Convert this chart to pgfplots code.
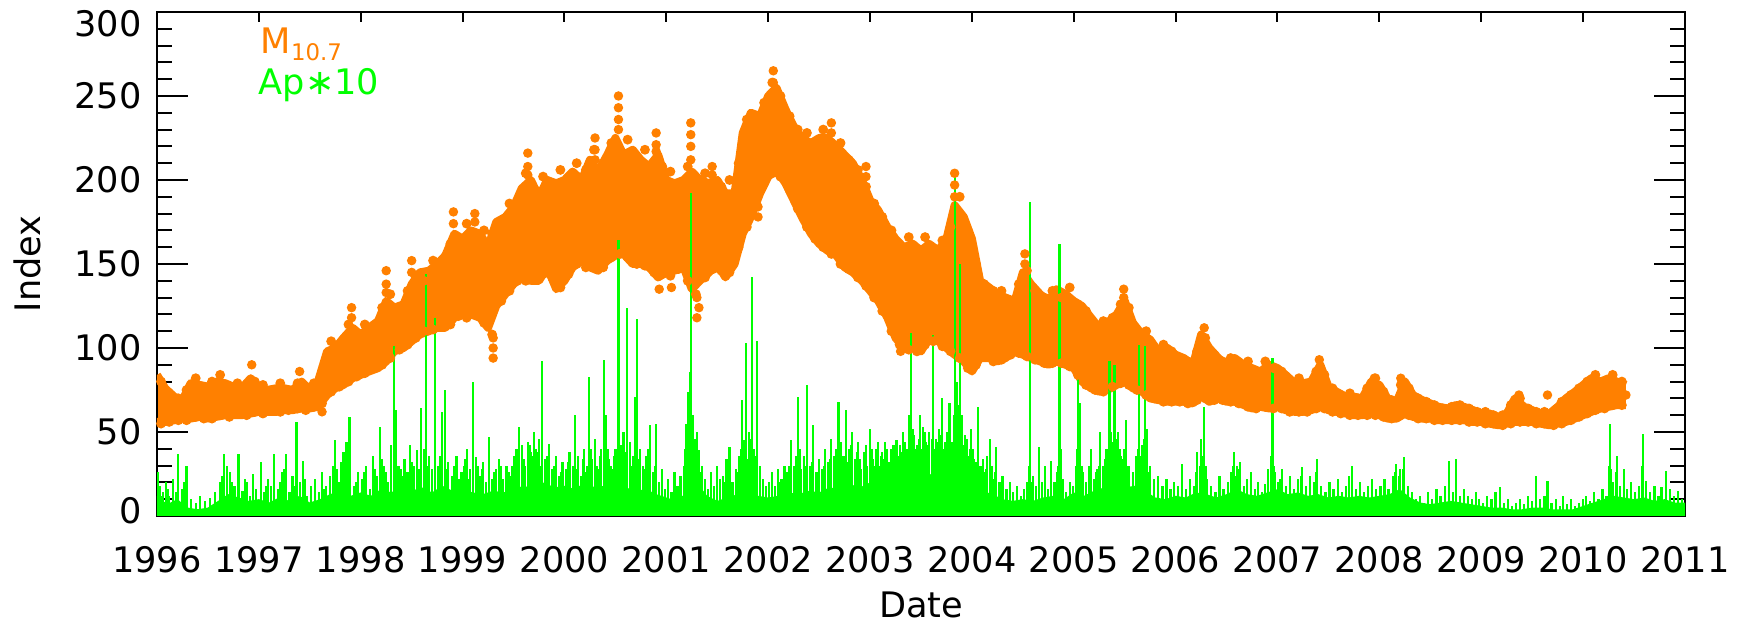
\documentclass[border=0pt]{standalone}
\usepackage{fontspec}
\setmainfont{DejaVu Sans}
\usepackage{pgfplots}
\usepackage{pgfplotstable}
\usepgfplotslibrary{fillbetween}
\pgfplotsset{compat=1.18}
\definecolor{morange}{RGB}{255,128,0}
\definecolor{apgreen}{RGB}{0,255,0}

% M10.7: monthly upper / lower edge of the daily point cloud
\pgfplotstableread{
t u l
1996.00 84 56
1996.08 76 56
1996.17 71 57
1996.25 69 58
1996.33 79 58
1996.42 78 59
1996.50 77 58
1996.58 80 59
1996.67 79 60
1996.75 77 60
1996.83 76 60
1996.92 82 61
1997.00 76 62
1997.08 75 62
1997.17 76 62
1997.25 76 63
1997.33 75 63
1997.42 80 64
1997.50 75 64
1997.58 80 65
1997.67 98 72
1997.75 100 76
1997.83 106 78
1997.92 112 82
1998.00 108 84
1998.08 112 86
1998.17 116 88
1998.25 128 92
1998.33 124 98
1998.42 126 100
1998.50 138 104
1998.58 145 108
1998.67 146 110
1998.75 150 112
1998.83 155 112
1998.92 168 118
1999.00 165 120
1999.08 170 120
1999.17 168 118
1999.25 160 112
1999.33 175 125
1999.42 178 132
1999.50 184 138
1999.58 195 142
1999.67 200 140
1999.75 190 140
1999.83 200 148
1999.92 198 135
2000.00 200 140
2000.08 205 148
2000.17 200 152
2000.25 212 148
2000.33 205 146
2000.42 215 152
2000.50 225 155
2000.58 215 156
2000.67 218 150
2000.75 212 150
2000.83 208 148
2000.92 215 142
2001.00 200 145
2001.08 198 146
2001.17 200 148
2001.25 205 135
2001.33 200 140
2001.42 198 145
2001.50 200 150
2001.58 192 142
2001.67 192 150
2001.75 228 168
2001.83 240 178
2001.92 238 192
2002.00 250 202
2002.08 255 206
2002.17 242 198
2002.25 232 188
2002.33 225 178
2002.42 222 168
2002.50 225 162
2002.58 225 158
2002.67 220 155
2002.75 215 148
2002.83 210 145
2002.92 200 140
2003.00 188 134
2003.08 182 128
2003.17 172 118
2003.25 165 106
2003.33 160 100
2003.42 162 100
2003.50 158 98
2003.58 162 106
2003.67 158 104
2003.75 165 100
2003.83 185 96
2003.92 178 92
2004.00 165 86
2004.08 140 94
2004.17 136 94
2004.25 132 92
2004.33 130 94
2004.42 128 98
2004.50 145 96
2004.58 138 94
2004.67 132 92
2004.75 128 90
2004.83 135 92
2004.92 132 90
2005.00 128 88
2005.08 125 80
2005.17 118 76
2005.25 112 74
2005.33 115 75
2005.42 120 78
2005.50 128 80
2005.58 115 76
2005.67 108 74
2005.75 105 70
2005.83 98 69
2005.92 100 68
2006.00 96 68
2006.08 94 68
2006.17 90 67
2006.25 108 72
2006.33 100 68
2006.42 94 70
2006.50 90 68
2006.58 94 68
2006.67 90 66
2006.75 88 64
2006.83 86 65
2006.92 90 64
2007.00 88 65
2007.08 84 63
2007.17 79 62
2007.25 79 62
2007.33 80 63
2007.42 90 65
2007.50 77 63
2007.58 74 62
2007.67 71 61
2007.75 71 60
2007.83 70 60
2007.92 80 61
2008.00 78 60
2008.08 70 58
2008.17 68 58
2008.25 80 61
2008.33 72 59
2008.42 69 58
2008.50 67 58
2008.58 65 57
2008.67 64 57
2008.75 66 57
2008.83 65 57
2008.92 63 56
2009.00 61 56
2009.08 61 55
2009.17 59 54
2009.25 61 55
2009.33 70 56
2009.42 65 56
2009.50 63 56
2009.58 61 55
2009.67 61 54
2009.75 65 55
2009.83 70 56
2009.92 74 58
2010.00 78 60
2010.08 82 62
2010.17 80 64
2010.25 82 65
2010.33 80 66
2010.42 78 66
}\mten

% M10.7: top and bottom points of the cloud in mid-month
\pgfplotstableread{
t u l
1996.04 80 55
1996.12 73 56
1996.21 70 57
1996.29 75 57
1996.38 82 59
1996.46 76 58
1996.54 80 58
1996.62 84 60
1996.71 76 59
1996.79 79 61
1996.88 75 60
1996.96 80 62
1997.04 78 61
1997.12 74 63
1997.21 79 62
1997.29 74 63
1997.38 79 64
1997.46 77 63
1997.54 79 65
1997.62 86 67
1997.71 104 74
1997.79 102 77
1997.88 114 80
1997.96 106 83
1998.04 114 85
1998.12 110 88
1998.21 124 90
1998.29 132 94
1998.38 120 99
1998.46 134 102
1998.54 142 106
1998.62 140 110
1998.71 152 111
1998.79 148 113
1998.88 162 114
1998.96 160 119
1999.04 174 118
1999.12 165 121
1999.21 170 115
1999.29 168 108
1999.38 172 128
1999.46 186 134
1999.54 180 140
1999.62 204 140
1999.71 194 142
1999.79 202 144
1999.88 192 142
1999.96 206 136
2000.04 196 144
2000.12 210 150
2000.21 206 148
2000.29 218 150
2000.38 210 148
2000.46 222 154
2000.54 218 156
2000.62 224 154
2000.71 212 150
2000.79 218 149
2000.88 210 145
2000.96 208 144
2001.04 205 143
2001.12 194 147
2001.21 208 140
2001.29 198 132
2001.38 204 142
2001.46 192 147
2001.54 196 146
2001.62 200 145
2001.71 210 160
2001.79 236 172
2001.88 232 186
2001.96 246 198
2002.04 258 204
2002.12 250 202
2002.21 238 194
2002.29 230 183
2002.38 228 172
2002.46 220 165
2002.54 230 160
2002.62 222 156
2002.71 222 150
2002.79 212 147
2002.88 206 142
2002.96 196 137
2003.04 186 130
2003.12 178 122
2003.21 170 110
2003.29 160 102
2003.38 166 99
2003.46 156 98
2003.54 166 102
2003.62 156 104
2003.71 164 101
2003.79 172 98
2003.88 190 94
2003.96 170 88
2004.04 150 90
2004.12 138 95
2004.21 134 92
2004.29 134 93
2004.38 126 96
2004.46 138 97
2004.54 146 95
2004.62 134 93
2004.71 130 91
2004.79 134 91
2004.88 130 91
2004.96 136 89
2005.04 126 84
2005.12 122 78
2005.21 114 75
2005.29 116 74
2005.38 118 77
2005.46 126 79
2005.54 124 78
2005.62 110 75
2005.71 110 72
2005.79 100 70
2005.88 102 68
2005.96 98 68
2006.04 92 68
2006.12 92 67
2006.21 98 69
2006.29 106 70
2006.38 96 69
2006.46 92 69
2006.54 94 68
2006.62 90 67
2006.71 92 65
2006.79 86 64
2006.88 92 65
2006.96 88 64
2007.04 86 64
2007.12 80 62
2007.21 82 62
2007.29 78 62
2007.38 86 64
2007.46 84 64
2007.54 76 62
2007.62 72 61
2007.71 73 60
2007.79 70 60
2007.88 76 60
2007.96 82 60
2008.04 74 59
2008.12 69 58
2008.21 78 60
2008.29 76 60
2008.38 70 58
2008.46 68 58
2008.54 66 57
2008.62 64 57
2008.71 65 57
2008.79 66 57
2008.88 64 56
2008.96 62 56
2009.04 62 55
2009.12 60 55
2009.21 60 54
2009.29 66 55
2009.38 70 56
2009.46 64 56
2009.54 62 55
2009.62 62 55
2009.71 62 54
2009.79 68 55
2009.88 72 57
2009.96 76 59
2010.04 80 61
2010.12 84 63
2010.21 80 64
2010.29 84 66
2010.38 80 66
}\mtenmid

% Ap*10: dense low-level band
\pgfplotstableread{
t b
1996.0 12
1996.1 7
1996.2 10
1996.3 5
1996.4 4
1996.5 5
1996.6 9
1996.7 13
1996.8 11
1996.9 9
1997.0 10
1997.1 8
1997.2 11
1997.3 9
1997.4 12
1997.5 8
1997.6 10
1997.7 13
1997.8 15
1997.9 12
1998.0 14
1998.1 12
1998.2 16
1998.3 14
1998.4 18
1998.5 15
1998.6 17
1998.7 14
1998.8 18
1998.9 15
1999.0 16
1999.1 14
1999.2 13
1999.3 15
1999.4 14
1999.5 16
1999.6 18
1999.7 16
1999.8 20
1999.9 17
2000.0 18
2000.1 16
2000.2 20
2000.3 17
2000.4 18
2000.5 15
2000.6 17
2000.7 15
2000.8 16
2000.9 13
2001.0 11
2001.1 9
2001.2 14
2001.25 28
2001.3 20
2001.4 12
2001.5 9
2001.6 11
2001.7 13
2001.8 15
2001.9 12
2002.0 11
2002.1 12
2002.2 14
2002.3 13
2002.4 15
2002.5 14
2002.6 17
2002.7 16
2002.8 19
2002.9 17
2003.0 20
2003.1 18
2003.2 22
2003.3 20
2003.4 24
2003.5 22
2003.6 25
2003.7 23
2003.8 27
2003.9 24
2004.0 20
2004.1 15
2004.2 13
2004.3 10
2004.4 9
2004.5 10
2004.6 9
2004.7 11
2004.8 12
2004.9 10
2005.0 14
2005.1 12
2005.2 15
2005.3 17
2005.4 20
2005.5 17
2005.6 18
2005.7 15
2005.8 11
2005.9 10
2006.0 12
2006.1 11
2006.2 14
2006.3 13
2006.4 11
2006.5 13
2006.6 16
2006.7 13
2006.8 12
2006.9 14
2007.0 16
2007.1 13
2007.2 14
2007.3 12
2007.4 13
2007.5 11
2007.6 12
2007.7 11
2007.8 12
2007.9 11
2008.0 12
2008.1 13
2008.2 16
2008.3 11
2008.4 8
2008.5 7
2008.6 8
2008.7 9
2008.8 8
2008.9 7
2009.0 6
2009.1 5
2009.2 5
2009.3 4
2009.4 4
2009.5 5
2009.6 5
2009.7 4
2009.8 4
2009.9 4
2010.0 6
2010.1 8
2010.2 10
2010.3 12
2010.4 11
2010.5 10
2010.6 11
2010.7 9
2010.8 10
2010.9 8
2011.0 8
}\apbase

\begin{document}
\begin{tikzpicture}

% axis for the short x ticks and the x labels
\begin{axis}[
  at={(0,0)}, anchor=south west, scale only axis,
  width=152.8mm, height=50.4mm,
  xmin=1996, xmax=2011, ymin=0, ymax=300,
  axis line style={line width=0.2mm},
  tick style={black, line width=0.2mm},
  tick align=inside,
  xtick={1996,1997,...,2011},
  xticklabels={1996,1997,1998,1999,2000,2001,2002,2003,2004,2005,2006,2007,2008,2009,2010,2011},
  minor x tick num=11,
  major tick length=1mm, minor tick length=0.5mm,
  ytick=\empty,
  xticklabel style={yshift=-1.8mm},
  xlabel={Date},
  xlabel style={at={(axis description cs:0.5,0)}, anchor=center, yshift=-8.9mm, inner sep=0pt},
]
\addplot[draw=none] coordinates {(1996,0) (2011,300)};
\end{axis}

% axis for the y ticks and the data
\begin{axis}[
  at={(0,0)}, anchor=south west, scale only axis,
  width=152.8mm, height=50.4mm,
  xmin=1996, xmax=2011, ymin=0, ymax=300,
  axis line style={line width=0.2mm},
  tick style={black, line width=0.2mm},
  tick align=inside,
  xtick=\empty,
  ytick={0,50,...,300},
  yticklabels={{\raisebox{0.5mm}[\height][\depth]{0}},50,100,150,200,250,{\raisebox{-1.2mm}[\height][\depth]{300}}},
  minor y tick num=4,
  major tick length=3.1mm, minor tick length=1.5mm,
  yticklabel style={xshift=-0.3mm},
  ylabel={Index},
  ylabel style={at={(axis description cs:-0.0845,0.5)}, anchor=center, inner sep=0pt},
]
% M10.7 cloud
\addplot[name path=up, morange, line width=0.8mm, line join=round] table[x=t,y=u] {\mten};
\addplot[name path=lo, morange, line width=0.8mm, line join=round] table[x=t,y=l] {\mten};
\addplot[morange] fill between[of=up and lo];
\addplot[only marks, mark=*, mark size=0.42mm, morange] table[x=t,y=u] {\mtenmid};
\addplot[only marks, mark=*, mark size=0.42mm, morange] table[x=t,y=l] {\mtenmid};
\addplot[only marks, mark=*, mark size=0.4mm, morange] coordinates {
(1996.93,90) (1997.40,86) (1997.62,62) (1997.91,124) (1997.91,118) (1998.25,146) (1998.25,138)
(1998.25,133) (1998.50,152) (1998.50,145) (1998.91,181) (1998.91,174) (1999.12,180) (1999.12,175)
(1999.30,94) (1999.30,100) (1999.30,106) (1999.64,216) (1999.64,208) (1999.64,203) (2000.30,225)
(2000.30,218) (2000.30,212) (2000.53,250) (2000.53,243) (2000.53,236) (2000.53,230) (2000.90,228)
(2000.90,221) (2000.90,217) (2000.93,135) (2001.05,136) (2001.24,234) (2001.24,227) (2001.24,220)
(2001.24,212) (2001.30,118) (2001.32,124) (2001.30,130) (2001.45,208) (2001.45,203) (2001.90,178)
(2001.90,184) (2002.05,265) (2002.05,258) (2002.62,234) (2002.62,228) (2002.96,208) (2002.96,202)
(2003.30,98) (2003.32,104) (2003.83,204) (2003.83,197) (2003.83,190) (2004.52,156) (2004.52,150)
(2005.49,135) (2005.49,130) (2006.28,112) (2007.41,93) (2007.95,82) (2008.21,82) (2009.37,72)
(2009.65,72) (2010.42,72)
};
% Ap*10
\addplot[draw=none, fill=apgreen] table[x=t,y=b] {\apbase} \closedcycle;
\addplot[ycomb, apgreen, line width=0.22mm, mark=none] coordinates {
(1996.01,26) (1996.03,18) (1996.06,14) (1996.09,20) (1996.12,12) (1996.16,22) (1996.21,37) (1996.25,16)
(1996.29,30) (1996.33,10) (1996.38,8) (1996.42,12) (1996.47,9) (1996.52,11) (1996.57,14) (1996.62,20)
(1996.66,37) (1996.69,30) (1996.72,26) (1996.76,18) (1996.80,37) (1996.84,15) (1996.88,20) (1996.91,12)
(1996.94,25) (1996.97,16)
(1997.02,32) (1997.05,14) (1997.09,22) (1997.12,18) (1997.15,37) (1997.19,16) (1997.23,26) (1997.27,37)
(1997.30,14) (1997.33,24) (1997.37,56) (1997.40,20) (1997.43,33) (1997.47,12) (1997.51,18) (1997.55,22)
(1997.59,14) (1997.62,26) (1997.66,18) (1997.70,24) (1997.73,30) (1997.75,45) (1997.79,20) (1997.83,38)
(1997.86,44) (1997.89,59) (1997.93,18) (1997.97,26)
(1998.01,22) (1998.05,30) (1998.09,16) (1998.12,36) (1998.16,24) (1998.19,53) (1998.23,30) (1998.27,20)
(1998.30,42) (1998.33,101) (1998.35,63) (1998.39,28) (1998.43,34) (1998.46,26) (1998.48,42) (1998.52,30)
(1998.55,39) (1998.59,64) (1998.62,40) (1998.64,144) (1998.67,36) (1998.70,28) (1998.73,118) (1998.76,30)
(1998.80,62) (1998.83,75) (1998.86,32) (1998.90,24) (1998.94,36) (1998.97,22)
(1999.01,30) (1999.04,40) (1999.07,28) (1999.10,80) (1999.13,35) (1999.17,24) (1999.20,32) (1999.23,20)
(1999.26,47) (1999.29,22) (1999.33,28) (1999.36,34) (1999.40,22) (1999.43,30) (1999.47,24) (1999.51,36)
(1999.55,53) (1999.58,42) (1999.61,30) (1999.64,44) (1999.67,38) (1999.70,50) (1999.72,40) (1999.75,46)
(1999.78,92) (1999.81,34) (1999.85,43) (1999.88,28) (1999.92,36) (1999.95,24) (1999.98,32)
(2000.02,28) (2000.05,38) (2000.08,30) (2000.10,60) (2000.13,36) (2000.16,24) (2000.19,40) (2000.22,30)
(2000.24,83) (2000.27,34) (2000.30,46) (2000.33,28) (2000.36,40) (2000.39,93) (2000.41,60) (2000.44,34)
(2000.47,28) (2000.50,40) (2000.53,164) (2000.56,36) (2000.58,50) (2000.61,124) (2000.64,44) (2000.67,36)
(2000.69,71) (2000.71,117) (2000.74,40) (2000.77,30) (2000.80,36) (2000.84,54) (2000.87,26) (2000.90,55)
(2000.93,20) (2000.96,28) (2000.99,16)
(2001.02,22) (2001.05,14) (2001.08,26) (2001.11,18) (2001.14,24) (2001.17,30) (2001.19,55) (2001.21,74)
(2001.23,86) (2001.24,192) (2001.26,60) (2001.28,46) (2001.30,50) (2001.32,39) (2001.35,30) (2001.38,22)
(2001.41,16) (2001.44,26) (2001.47,18) (2001.50,30) (2001.53,22) (2001.56,24) (2001.59,34) (2001.62,41)
(2001.65,20) (2001.68,28) (2001.71,36) (2001.74,69) (2001.76,45) (2001.78,103) (2001.81,50) (2001.84,142)
(2001.86,40) (2001.89,104) (2001.92,30) (2001.95,22) (2001.98,18)
(2002.01,20) (2002.04,26) (2002.07,18) (2002.10,28) (2002.13,22) (2002.16,30) (2002.19,26) (2002.22,45)
(2002.25,30) (2002.29,71) (2002.32,28) (2002.35,36) (2002.38,78) (2002.41,30) (2002.44,54) (2002.47,26)
(2002.50,34) (2002.53,28) (2002.56,40) (2002.59,32) (2002.62,46) (2002.65,36) (2002.69,68) (2002.72,30)
(2002.76,63) (2002.79,40) (2002.82,50) (2002.85,34) (2002.88,44) (2002.91,28) (2002.94,38) (2002.97,30)
(2003.00,52) (2003.03,34) (2003.06,40) (2003.09,30) (2003.12,38) (2003.15,44) (2003.18,32) (2003.21,40)
(2003.24,36) (2003.26,45) (2003.29,42) (2003.32,50) (2003.35,40) (2003.38,60) (2003.40,109) (2003.43,48)
(2003.46,42) (2003.49,60) (2003.52,53) (2003.55,44) (2003.58,50) (2003.62,108) (2003.65,46) (2003.68,52)
(2003.71,70) (2003.74,44) (2003.78,67) (2003.81,40) (2003.83,205) (2003.85,80) (2003.88,150) (2003.90,60)
(2003.93,48) (2003.96,36) (2003.99,52)
(2004.02,34) (2004.06,65) (2004.09,30) (2004.12,26) (2004.15,36) (2004.18,46) (2004.21,22) (2004.24,41)
(2004.27,20) (2004.30,24) (2004.34,16) (2004.37,20) (2004.40,14) (2004.44,18) (2004.48,12) (2004.51,16)
(2004.54,20) (2004.57,187) (2004.60,24) (2004.63,18) (2004.66,41) (2004.69,20) (2004.72,30) (2004.75,16)
(2004.78,33) (2004.81,20) (2004.84,26) (2004.86,162) (2004.89,22) (2004.92,14) (2004.96,20) (2004.99,18)
(2005.02,30) (2005.04,85) (2005.06,67) (2005.09,26) (2005.12,20) (2005.15,30) (2005.17,40) (2005.20,22)
(2005.23,28) (2005.26,50) (2005.29,30) (2005.32,40) (2005.35,92) (2005.37,44) (2005.40,90) (2005.43,50)
(2005.46,36) (2005.49,40) (2005.51,57) (2005.54,30) (2005.58,26) (2005.61,36) (2005.64,102) (2005.67,42)
(2005.70,101) (2005.72,52) (2005.75,30) (2005.79,22) (2005.83,24) (2005.87,18) (2005.91,22) (2005.95,16)
(2005.98,20)
(2006.02,18) (2006.06,31) (2006.10,16) (2006.14,22) (2006.18,18) (2006.21,38) (2006.25,46) (2006.28,65)
(2006.31,22) (2006.35,18) (2006.39,14) (2006.43,24) (2006.47,16) (2006.51,20) (2006.54,26) (2006.57,38)
(2006.60,30) (2006.63,32) (2006.67,18) (2006.70,22) (2006.74,26) (2006.78,16) (2006.81,20) (2006.85,14)
(2006.88,19) (2006.91,28) (2006.95,94) (2006.97,26)
(2007.01,20) (2007.04,28) (2007.08,18) (2007.12,24) (2007.16,16) (2007.20,22) (2007.24,29) (2007.28,18)
(2007.32,24) (2007.36,20) (2007.39,34) (2007.43,18) (2007.47,14) (2007.51,20) (2007.55,16) (2007.59,22)
(2007.63,14) (2007.67,18) (2007.70,24) (2007.73,30) (2007.77,16) (2007.81,20) (2007.85,14) (2007.89,18)
(2007.93,22) (2007.97,16)
(2008.01,18) (2008.05,22) (2008.09,16) (2008.13,24) (2008.16,31) (2008.20,28) (2008.24,35) (2008.28,18)
(2008.32,14) (2008.36,10) (2008.40,12) (2008.44,8) (2008.48,14) (2008.52,10) (2008.56,16) (2008.60,12)
(2008.64,18) (2008.68,33) (2008.72,14) (2008.75,34) (2008.79,12) (2008.83,16) (2008.87,12) (2008.91,10)
(2008.95,14) (2008.98,10)
(2009.02,8) (2009.06,12) (2009.10,10) (2009.14,14) (2009.18,17) (2009.22,8) (2009.26,10) (2009.30,6)
(2009.34,8) (2009.38,10) (2009.42,7) (2009.46,12) (2009.50,9) (2009.54,24) (2009.58,10) (2009.62,12)
(2009.65,21) (2009.69,8) (2009.73,10) (2009.77,6) (2009.80,12) (2009.84,7) (2009.88,10) (2009.92,6)
(2009.96,8)
(2010.00,10) (2010.03,12) (2010.07,9) (2010.11,14) (2010.15,10) (2010.19,16) (2010.23,12) (2010.26,55)
(2010.29,20) (2010.33,36) (2010.36,18) (2010.40,28) (2010.43,16) (2010.47,20) (2010.51,14) (2010.55,18)
(2010.59,49) (2010.62,21) (2010.66,14) (2010.70,18) (2010.74,12) (2010.77,17) (2010.81,27) (2010.85,16)
(2010.89,12) (2010.93,15) (2010.97,10)
};
% Ap*10: the many smaller days between the peaks
\addplot[ycomb, apgreen, line width=0.22mm, mark=none] coordinates {
(1996.045,12) (1996.105,16) (1996.185,14) (1996.27,20) (1996.64,24) (1996.74,20) (1996.86,22)
(1997.07,18) (1997.21,20) (1997.25,28) (1997.35,18) (1997.45,22) (1997.64,16) (1997.77,28) (1997.81,32)
(1997.95,20) (1998.03,26) (1998.14,28) (1998.21,34) (1998.25,26) (1998.37,30) (1998.41,24) (1998.50,32)
(1998.57,28) (1998.66,30) (1998.78,36) (1998.85,28) (1998.92,30) (1998.99,26) (1999.02,34) (1999.06,22)
(1999.15,30) (1999.19,28) (1999.31,26) (1999.38,30) (1999.45,26) (1999.49,30) (1999.53,40) (1999.60,34)
(1999.66,42) (1999.69,36) (1999.74,38) (1999.77,30) (1999.83,36) (1999.90,30) (1999.97,26) (2000.04,32)
(2000.12,28) (2000.18,34) (2000.21,26) (2000.26,40) (2000.32,30) (2000.35,36) (2000.43,40) (2000.46,30)
(2000.49,36) (2000.55,42) (2000.60,38) (2000.66,30) (2000.73,34) (2000.79,28) (2000.82,40) (2000.89,30)
(2001.18,40) (2001.22,60) (2001.25,50) (2001.27,42) (2001.29,36) (2001.31,32) (2001.34,26) (2001.57,20)
(2001.61,28) (2001.70,26) (2001.73,40) (2001.77,38) (2001.80,34) (2001.83,46) (2001.88,36) (2002.12,20)
(2002.21,30) (2002.27,36) (2002.31,40) (2002.37,30) (2002.43,32) (2002.49,26) (2002.55,30) (2002.61,34)
(2002.67,40) (2002.71,44) (2002.74,36) (2002.78,32) (2002.81,42) (2002.87,38) (2002.90,34) (2002.96,42)
(2003.02,40) (2003.05,30) (2003.08,44) (2003.11,36) (2003.14,34) (2003.17,40) (2003.20,30) (2003.23,42)
(2003.28,36) (2003.31,38) (2003.34,44) (2003.37,40) (2003.42,52) (2003.45,40) (2003.48,46) (2003.51,40)
(2003.54,50) (2003.57,42) (2003.61,46) (2003.64,40) (2003.67,44) (2003.70,48) (2003.73,40) (2003.76,50)
(2003.80,44) (2003.82,60) (2003.84,70) (2003.86,56) (2003.87,66) (2003.89,50) (2003.92,42) (2003.95,46)
(2003.98,40) (2004.01,40) (2004.04,32) (2004.08,30) (2004.11,34) (2004.14,28) (2004.20,30) (2004.23,26)
(2004.56,30) (2004.59,20) (2004.85,30) (2004.87,40) (2005.03,40) (2005.05,50) (2005.08,30) (2005.22,26)
(2005.25,30) (2005.31,34) (2005.34,40) (2005.36,50) (2005.39,44) (2005.41,46) (2005.45,40) (2005.48,34)
(2005.50,36) (2005.53,30) (2005.63,40) (2005.66,36) (2005.69,46) (2005.71,40) (2005.74,26) (2006.20,26)
(2006.24,30) (2006.27,36) (2006.30,30) (2006.56,30) (2006.59,24) (2006.62,28) (2006.94,36) (2006.96,30)
(2007.03,22) (2007.23,24) (2007.38,26) (2008.15,26) (2008.19,24) (2008.23,28) (2010.25,30) (2010.27,28)
(2010.32,26) (2010.58,30)
};
\node[anchor=base west, inner sep=0pt, text=morange] at (axis description cs:0.0674,0.9167)
  {M\raisebox{-0.7mm}{\fontsize{6.5}{7}\selectfont 10.7}};
\node[anchor=base west, inner sep=0pt, text=apgreen] at (axis description cs:0.0661,0.8353) {Ap∗10};
\end{axis}

\pgfresetboundingbox
\useasboundingbox (-15.7mm,-10.6mm) rectangle (158.6mm,51.6mm);
\end{tikzpicture}
\end{document}
